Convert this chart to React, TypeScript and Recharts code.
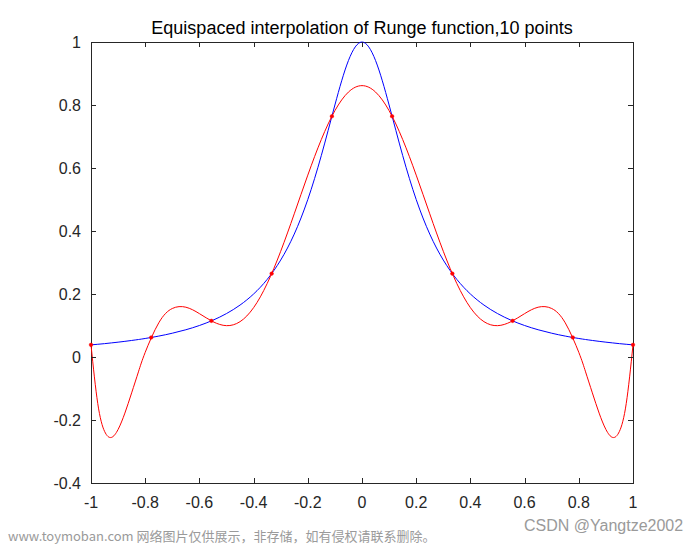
import React from 'react';
import { ComposedChart, Line, XAxis, YAxis, ReferenceArea } from 'recharts';

// sample positions along x (finer near the ends where the interpolant swings)
const xs = [
  -1, -0.975, -0.95, -0.925, -0.9, -0.875, -0.85, -0.825, -0.8,
  -0.75, -0.7, -0.65, -0.6, -0.55, -0.5, -0.45, -0.4, -0.35, -0.3, -0.25, -0.2, -0.15, -0.1, -0.05,
  0,
  0.05, 0.1, 0.15, 0.2, 0.25, 0.3, 0.35, 0.4, 0.45, 0.5, 0.55, 0.6, 0.65, 0.7, 0.75,
  0.8, 0.825, 0.85, 0.875, 0.9, 0.925, 0.95, 0.975, 1,
];

// Runge function (blue)
const runge = [
  0.0385, 0.0404, 0.0424, 0.0447, 0.0471, 0.0497, 0.0525, 0.0555, 0.0588,
  0.0664, 0.0755, 0.0865, 0.1, 0.1168, 0.1379, 0.1649, 0.2, 0.2462, 0.3077, 0.3902, 0.5, 0.64, 0.8, 0.9412,
  1,
  0.9412, 0.8, 0.64, 0.5, 0.3902, 0.3077, 0.2462, 0.2, 0.1649, 0.1379, 0.1168, 0.1, 0.0865, 0.0755, 0.0664,
  0.0588, 0.0555, 0.0525, 0.0497, 0.0471, 0.0447, 0.0424, 0.0404, 0.0385,
];

// equispaced interpolant, 10 points (red)
const interp = [
  0.0385, -0.148, -0.236, -0.2554, -0.23, -0.1781, -0.1138, -0.0472, 0.0147,
  0.1084, 0.154, 0.1581, 0.1377, 0.1122, 0.0995, 0.1122, 0.1566, 0.233, 0.3356, 0.4546, 0.5774, 0.6907, 0.782, 0.8411,
  0.8615,
  0.8411, 0.782, 0.6907, 0.5774, 0.4546, 0.3356, 0.233, 0.1566, 0.1122, 0.0995, 0.1122, 0.1377, 0.1581, 0.154, 0.1084,
  0.0147, -0.0472, -0.1138, -0.1781, -0.23, -0.2554, -0.236, -0.148, 0.0385,
];

// interpolation nodes
const nodeX = [-1, -0.7778, -0.5556, -0.3333, -0.1111, 0.1111, 0.3333, 0.5556, 0.7778, 1];
const nodeY = [0.0385, 0.062, 0.1147, 0.2647, 0.7642, 0.7642, 0.2647, 0.1147, 0.062, 0.0385];

const xTicks = [-1, -0.8, -0.6, -0.4, -0.2, 0, 0.2, 0.4, 0.6, 0.8, 1];
const yTicks = [-0.4, -0.2, 0, 0.2, 0.4, 0.6, 0.8, 1];

const data = xs.map((x, i) => ({ x, runge: runge[i], interp: interp[i] }));
const nodes = nodeX.map((x, i) => ({ x, node: nodeY[i] }));

const PLOT = { left: 91, top: 42, right: 633, bottom: 483 };
const AXIS = '#262626';
const FONT = '"Liberation Sans", Arial, sans-serif';
const TICK_LEN = 5;

function XTick(props: any) {
  const x = Math.round(props.x) + 0.5;
  return (
    <g>
      <line x1={x} x2={x} y1={PLOT.bottom} y2={PLOT.bottom - TICK_LEN} stroke={AXIS} shapeRendering="crispEdges" />
      <line x1={x} x2={x} y1={PLOT.top} y2={PLOT.top + TICK_LEN} stroke={AXIS} shapeRendering="crispEdges" />
      <text x={props.x} y={PLOT.bottom + 25} textAnchor="middle" fill={AXIS} fontSize={16} fontFamily={FONT}>
        {String(props.payload.value)}
      </text>
    </g>
  );
}

function YTick(props: any) {
  const y = Math.round(props.y) + 0.5;
  return (
    <g>
      <line x1={PLOT.left} x2={PLOT.left + TICK_LEN} y1={y} y2={y} stroke={AXIS} shapeRendering="crispEdges" />
      <line x1={PLOT.right} x2={PLOT.right - TICK_LEN} y1={y} y2={y} stroke={AXIS} shapeRendering="crispEdges" />
      <text x={PLOT.left - 10} y={props.y + 6} textAnchor="end" fill={AXIS} fontSize={16} fontFamily={FONT}>
        {String(props.payload.value)}
      </text>
    </g>
  );
}

function Frame(props: any) {
  return (
    <rect
      x={Math.round(props.x) + 0.5}
      y={Math.round(props.y) + 0.5}
      width={Math.round(props.width)}
      height={Math.round(props.height)}
      fill="none"
      stroke={AXIS}
      shapeRendering="crispEdges"
    />
  );
}

export default function App() {
  return (
    <div style={{ position: 'absolute', left: 0, top: 0, width: 700, height: 544, background: '#fff', fontFamily: FONT }}>
      <div
        style={{
          position: 'absolute',
          left: PLOT.left - 20,
          width: PLOT.right - PLOT.left + 40,
          top: 19,
          textAlign: 'center',
          fontSize: 18,
          lineHeight: '18px',
          color: '#000',
          whiteSpace: 'nowrap',
        }}
      >
        Equispaced interpolation of Runge function,10 points
      </div>
      <ComposedChart width={700} height={544} data={data} margin={{ top: 42, right: 67, bottom: 31, left: 41 }}>
        <XAxis
          dataKey="x"
          type="number"
          domain={[-1, 1]}
          ticks={xTicks}
          interval={0}
          height={30}
          axisLine={false}
          tickLine={false}
          tick={<XTick />}
        />
        <YAxis
          type="number"
          domain={[-0.4, 1]}
          ticks={yTicks}
          interval={0}
          width={50}
          axisLine={false}
          tickLine={false}
          tick={<YTick />}
        />
        <ReferenceArea x1={-1} x2={1} y1={-0.4} y2={1} shape={<Frame />} />
        <Line type="natural" dataKey="runge" stroke="#0000ff" strokeWidth={1} dot={false} isAnimationActive={false} />
        <Line type="natural" dataKey="interp" stroke="#ff0000" strokeWidth={1} dot={false} isAnimationActive={false} />
        <Line
          data={nodes}
          dataKey="node"
          stroke="none"
          dot={{ r: 1.8, fill: '#ff0000', stroke: '#ff0000', strokeWidth: 0.5 }}
          isAnimationActive={false}
        />
      </ComposedChart>
      <div style={{ position: 'absolute', left: 8, top: 528, fontSize: 13, lineHeight: '15px', color: '#9a9a9a', whiteSpace: 'nowrap', fontFamily: '"Noto Sans CJK SC", "Liberation Sans", sans-serif' }}>
        www.toymoban.com 网络图片仅供展示，非存储，如有侵权请联系删除。
      </div>
      <div style={{ position: 'absolute', left: 524, top: 517, fontSize: 16, lineHeight: '17px', color: '#9a9a9a', whiteSpace: 'nowrap' }}>
        CSDN @Yangtze2002
      </div>
    </div>
  );
}
